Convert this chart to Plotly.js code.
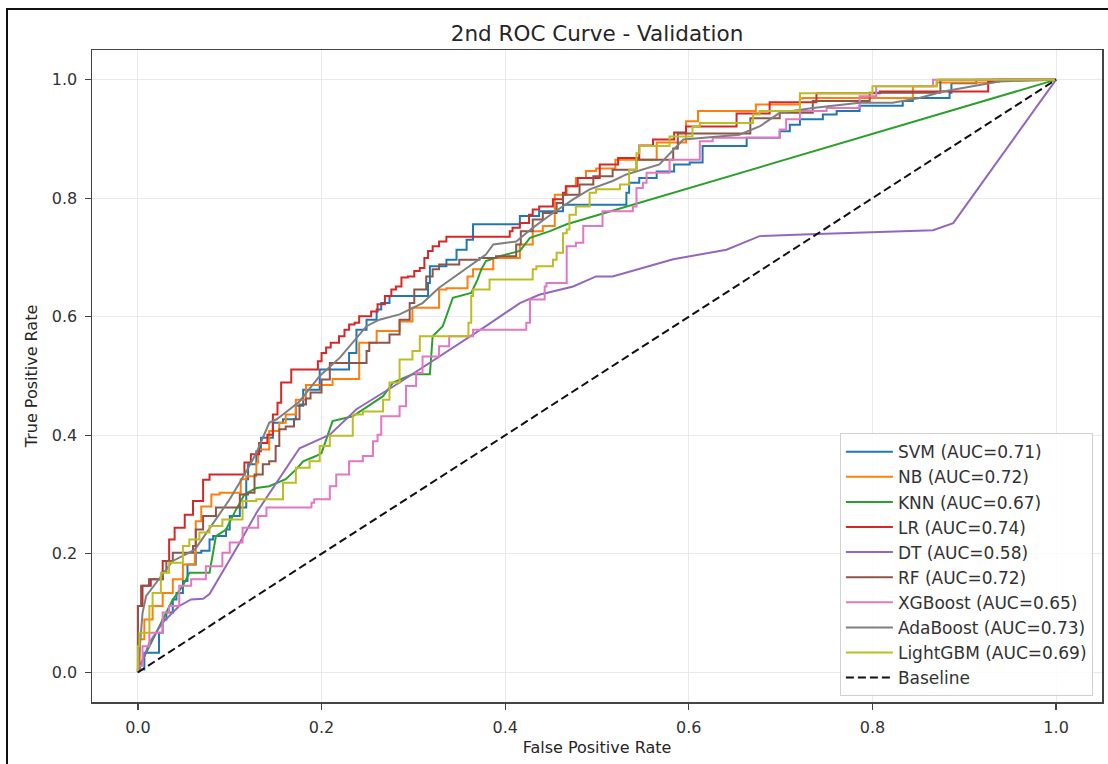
<!DOCTYPE html>
<html>
<head>
<meta charset="utf-8">
<script src="https://cdn.plot.ly/plotly-3.0.1.min.js"></script>
<style>
  html, body { margin: 0; padding: 0; background: #fff; }
  #wrap { position: relative; width: 1108px; height: 764px; overflow: hidden; }
  #chart { position: absolute; left: 0; top: 0; width: 1108px; height: 764px; }
  #frame { position: absolute; left: 6px; top: 8px; width: 1200px; height: 900px;
           border-left: 2px solid #111; border-top: 2px solid #111; pointer-events: none; }
</style>
</head>
<body>
<div id="wrap"><div id="chart"></div><div id="frame"></div></div>
<script>
// ---- data ----
const models = ['SVM', 'NB', 'KNN', 'LR', 'DT', 'RF', 'XGBoost', 'AdaBoost', 'LightGBM'];
const aucValues = [0.71, 0.72, 0.67, 0.74, 0.58, 0.72, 0.65, 0.73, 0.69];
const tickVals = [0, 0.2, 0.4, 0.6, 0.8, 1.0];
const tickLabels = ['0.0', '0.2', '0.4', '0.6', '0.8', '1.0'];

const svmFpr = [0,0.007,0.0125,0.023,0.027,0.031,0.038,0.042,0.049,0.054,0.063,0.069,0.078,0.082,0.096,0.100,0.111,0.118,0.120,0.129,0.134,0.147,0.158,0.172,0.180,0.198,0.205,0.230,0.238,0.249,0.260,0.265,0.274,0.299,0.316,0.318,0.336,0.347,0.358,0.365,0.367,0.416,0.437,0.463,0.467,0.532,0.535,0.546,0.565,0.584,0.601,0.615,0.641,0.663,0.666,0.699,0.710,0.721,0.746,0.761,0.786,0.790,0.833,0.844,0.884,0.886,0.913,0.925,1];
const svmTpr = [0,0.005,0.033,0.033,0.067,0.089,0.101,0.123,0.134,0.154,0.182,0.202,0.205,0.224,0.230,0.241,0.264,0.278,0.326,0.351,0.373,0.396,0.421,0.427,0.450,0.477,0.511,0.511,0.539,0.578,0.595,0.612,0.623,0.635,0.635,0.657,0.685,0.696,0.713,0.730,0.756,0.756,0.770,0.778,0.789,0.789,0.809,0.826,0.834,0.845,0.857,0.860,0.888,0.888,0.902,0.902,0.913,0.924,0.933,0.941,0.947,0.956,0.956,0.964,0.969,0.978,0.994,1,1];

const nbFpr = [0,0.002,0.007,0.016,0.027,0.038,0.049,0.062,0.063,0.069,0.080,0.089,0.112,0.118,0.129,0.131,0.143,0.154,0.161,0.172,0.183,0.212,0.241,0.260,0.285,0.299,0.328,0.336,0.359,0.365,0.387,0.416,0.430,0.441,0.454,0.467,0.477,0.488,0.499,0.520,0.546,0.565,0.597,0.610,0.617,0.673,0.677,0.721,0.724,0.844,0.870,0.930,1];
const nbTpr = [0,0.005,0.056,0.089,0.112,0.134,0.157,0.182,0.202,0.255,0.280,0.300,0.303,0.326,0.331,0.354,0.376,0.407,0.421,0.435,0.460,0.485,0.495,0.556,0.576,0.592,0.615,0.646,0.648,0.668,0.680,0.699,0.722,0.744,0.753,0.806,0.820,0.834,0.846,0.850,0.865,0.865,0.894,0.930,0.947,0.947,0.958,0.958,0.968,0.969,0.989,0.995,1];

const knnFpr = [0,0.002,0.0125,0.027,0.038,0.049,0.056,0.078,0.083,0.085,0.096,0.107,0.116,0.129,0.143,0.161,0.172,0.180,0.194,0.200,0.212,0.234,0.267,0.278,0.299,0.318,0.321,0.332,0.343,0.363,0.370,0.374,0.379,0.394,0.416,0.427,0.448,0.467,1];
const knnTpr = [0,0.011,0.044,0.089,0.123,0.146,0.168,0.168,0.213,0.230,0.241,0.275,0.300,0.311,0.314,0.326,0.342,0.356,0.365,0.370,0.424,0.432,0.466,0.489,0.503,0.503,0.567,0.584,0.632,0.640,0.663,0.680,0.694,0.702,0.711,0.733,0.744,0.756,1];

const lrFpr = [0,0.005,0.014,0.027,0.034,0.040,0.051,0.060,0.071,0.078,0.083,0.116,0.123,0.132,0.141,0.147,0.152,0.156,0.167,0.176,0.196,0.200,0.205,0.210,0.219,0.225,0.230,0.236,0.241,0.254,0.261,0.269,0.276,0.281,0.287,0.294,0.301,0.307,0.312,0.316,0.321,0.328,0.336,0.343,0.405,0.408,0.416,0.426,0.430,0.437,0.452,0.463,0.466,0.479,0.503,0.523,0.546,0.561,0.584,0.597,0.619,0.652,0.688,0.739,0.808,0.926,0.938,1];
const lrTpr = [0,0.112,0.146,0.157,0.188,0.224,0.244,0.266,0.289,0.325,0.334,0.334,0.354,0.368,0.387,0.401,0.435,0.455,0.489,0.511,0.511,0.525,0.539,0.548,0.556,0.567,0.578,0.587,0.590,0.601,0.609,0.621,0.635,0.646,0.651,0.666,0.668,0.677,0.682,0.699,0.711,0.719,0.727,0.735,0.735,0.744,0.750,0.758,0.772,0.781,0.786,0.798,0.809,0.820,0.834,0.857,0.868,0.889,0.899,0.911,0.921,0.921,0.943,0.962,0.977,0.980,0.997,1];

const dtFpr = [0,0.0125,0.027,0.045,0.058,0.071,0.078,0.092,0.111,0.129,0.151,0.176,0.209,0.238,0.285,0.321,0.358,0.379,0.416,0.437,0.474,0.499,0.517,0.557,0.583,0.641,0.677,0.732,0.866,0.888,1];
const dtTpr = [0,0.050,0.084,0.112,0.123,0.124,0.132,0.168,0.219,0.269,0.320,0.378,0.401,0.444,0.489,0.525,0.562,0.584,0.623,0.637,0.651,0.668,0.668,0.685,0.697,0.713,0.736,0.739,0.746,0.758,1];

const rfFpr = [0,0.0035,0.012,0.020,0.027,0.031,0.038,0.060,0.063,0.071,0.085,0.092,0.111,0.120,0.127,0.136,0.143,0.150,0.154,0.161,0.170,0.176,0.183,0.188,0.200,0.209,0.220,0.249,0.252,0.274,0.285,0.296,0.301,0.314,0.321,0.328,0.350,0.372,0.390,0.412,0.417,0.430,0.441,0.456,0.463,0.481,0.496,0.517,0.543,0.550,0.583,0.588,0.594,0.667,0.672,0.699,0.703,0.735,0.739,0.797,0.800,0.874,0.877,1];
const rfTpr = [0,0.112,0.146,0.157,0.157,0.170,0.188,0.202,0.213,0.241,0.264,0.278,0.278,0.300,0.303,0.334,0.351,0.356,0.382,0.410,0.415,0.427,0.452,0.462,0.472,0.494,0.522,0.522,0.542,0.556,0.570,0.595,0.623,0.646,0.668,0.680,0.688,0.696,0.699,0.702,0.722,0.744,0.764,0.775,0.792,0.806,0.823,0.837,0.848,0.865,0.865,0.884,0.909,0.909,0.935,0.935,0.944,0.944,0.964,0.964,0.978,0.978,1,1];

const xgbFpr = [0,0.005,0.0125,0.018,0.027,0.034,0.045,0.058,0.063,0.074,0.085,0.092,0.100,0.114,0.131,0.140,0.154,0.189,0.192,0.209,0.216,0.230,0.245,0.256,0.261,0.265,0.285,0.292,0.303,0.310,0.328,0.339,0.365,0.372,0.423,0.427,0.443,0.445,0.467,0.477,0.485,0.506,0.510,0.539,0.543,0.550,0.554,0.579,0.612,0.626,0.648,0.699,0.706,0.721,0.750,0.786,0.804,0.826,0.866,0.870,1];
const xgbTpr = [0,0.011,0.044,0.067,0.067,0.101,0.112,0.146,0.157,0.157,0.179,0.179,0.202,0.219,0.244,0.264,0.278,0.278,0.286,0.292,0.314,0.334,0.356,0.365,0.390,0.401,0.432,0.449,0.483,0.505,0.533,0.550,0.567,0.578,0.578,0.590,0.629,0.651,0.657,0.719,0.725,0.753,0.778,0.778,0.786,0.817,0.826,0.843,0.865,0.896,0.902,0.902,0.916,0.933,0.947,0.952,0.972,0.989,0.989,1,1];

const adaFpr = [0,0.005,0.009,0.038,0.062,0.076,0.100,0.118,0.129,0.143,0.151,0.158,0.176,0.198,0.220,0.249,0.263,0.285,0.310,0.328,0.358,0.379,0.387,0.412,0.430,0.452,0.474,0.492,0.517,0.532,0.568,0.594,0.655,0.677,0.699,0.735,0.786,0.822,0.851,0.877,0.909,0.938,1];
const adaTpr = [0,0.100,0.129,0.188,0.207,0.238,0.292,0.339,0.370,0.421,0.427,0.435,0.457,0.500,0.531,0.584,0.595,0.604,0.623,0.649,0.682,0.705,0.722,0.727,0.750,0.775,0.798,0.815,0.829,0.840,0.857,0.899,0.907,0.921,0.944,0.952,0.961,0.961,0.969,0.980,0.989,0.997,1];

const lgbFpr = [0,0.0016,0.005,0.0125,0.016,0.025,0.034,0.049,0.056,0.067,0.078,0.092,0.114,0.129,0.158,0.172,0.187,0.198,0.209,0.234,0.245,0.267,0.274,0.285,0.299,0.307,0.321,0.360,0.363,0.365,0.383,0.394,0.430,0.434,0.452,0.456,0.463,0.467,0.470,0.477,0.492,0.499,0.525,0.535,0.543,0.546,0.579,0.604,0.612,0.615,0.670,0.677,0.721,0.766,0.800,0.870,0.877,1];
const lgbTpr = [0,0.044,0.067,0.067,0.112,0.134,0.168,0.185,0.213,0.224,0.236,0.247,0.258,0.289,0.292,0.320,0.345,0.356,0.382,0.399,0.435,0.440,0.460,0.489,0.528,0.542,0.567,0.567,0.590,0.635,0.646,0.663,0.663,0.680,0.685,0.696,0.708,0.741,0.747,0.772,0.786,0.809,0.815,0.823,0.848,0.876,0.888,0.904,0.921,0.927,0.927,0.941,0.947,0.977,0.977,0.989,1,1];

const baseFpr = [0, 1];
const baseTpr = [0, 1];

// ---- styling ----
const colors = ['#1f77b4', '#ff7f0e', '#2ca02c', '#d62728', '#9467bd', '#8c564b', '#e377c2', '#7f7f7f', '#bcbd22'];
const shapes = ['vh', 'vh', 'linear', 'vh', 'linear', 'vh', 'vh', 'linear', 'vh'];
const curveX = [svmFpr, nbFpr, knnFpr, lrFpr, dtFpr, rfFpr, xgbFpr, adaFpr, lgbFpr];
const curveY = [svmTpr, nbTpr, knnTpr, lrTpr, dtTpr, rfTpr, xgbTpr, adaTpr, lgbTpr];

const FONT = 'DejaVu Sans, Arial, sans-serif';
const traces = models.map((m, i) => ({
  type: 'scatter', mode: 'lines',
  x: curveX[i], y: curveY[i],
  name: m + ' (AUC=' + aucValues[i].toFixed(2) + ')',
  legendgroup: 'g' + i,
  line: { color: colors[i], width: 2, shape: shapes[i] },
  hoverinfo: 'skip'
}));
traces.push({
  type: 'scatter', mode: 'lines', x: baseFpr, y: baseTpr, name: 'Baseline',
  legendgroup: 'g9',
  line: { color: '#111', width: 2, dash: '8px,4px' }, hoverinfo: 'skip'
});

const axisBase = {
  range: [-0.05, 1.05], tickvals: tickVals, ticktext: tickLabels,
  ticks: 'outside', ticklen: 6, tickwidth: 1.3, tickcolor: '#444',
  showline: true, mirror: true, linecolor: '#444', linewidth: 1.5,
  showgrid: true, gridcolor: '#e9e9e9', gridwidth: 1, zeroline: false,
  tickfont: { family: FONT, size: 16, color: '#333' },
  ticklabelstandoff: 4, fixedrange: true
};

const layout = {
  width: 1108, height: 764,
  margin: { l: 92, r: 6, t: 50, b: 62 },
  paper_bgcolor: 'rgba(0,0,0,0)', plot_bgcolor: '#fff',
  title: { text: '2nd ROC Curve - Validation', font: { family: FONT, size: 21.5, color: '#262626' },
           x: 0.5, xref: 'paper', xanchor: 'center', y: 1 - 33 / 764, yref: 'container', yanchor: 'middle' },
  xaxis: Object.assign({}, axisBase, { title: { text: 'False Positive Rate', font: { family: FONT, size: 16, color: '#262626' }, standoff: 6 } }),
  yaxis: Object.assign({}, axisBase, { title: { text: 'True Positive Rate', font: { family: FONT, size: 16, color: '#262626' }, standoff: 10 } }),
  showlegend: true,
  legend: { x: 0.991, xanchor: 'right', y: 0.009, yanchor: 'bottom',
            bgcolor: 'rgba(255,255,255,0.82)', bordercolor: '#d0d0d0', borderwidth: 1,
            font: { family: FONT, size: 17, color: '#333' }, tracegroupgap: 0, itemwidth: 47 }
};

Plotly.newPlot('chart', traces, layout, { displayModeBar: false, staticPlot: true });
</script>
</body>
</html>
